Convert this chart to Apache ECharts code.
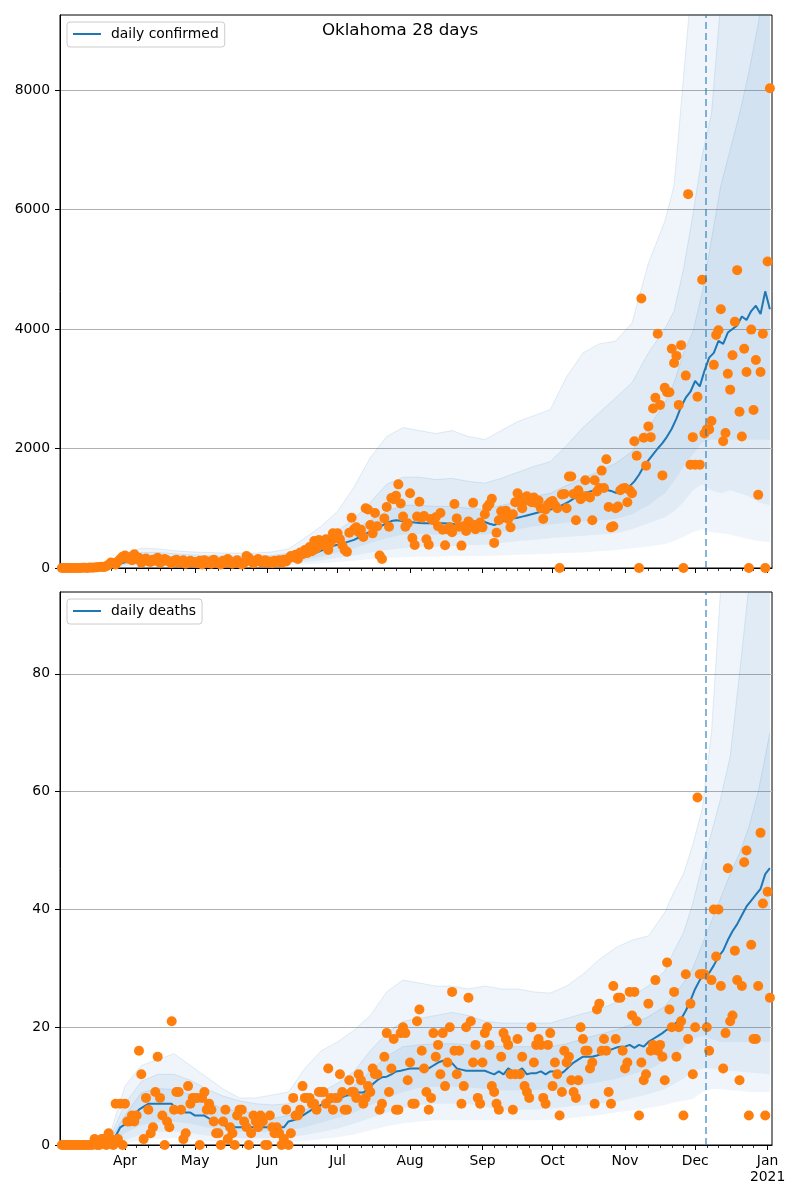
<!DOCTYPE html>
<html><head><meta charset="utf-8">
<script src="https://cdn.jsdelivr.net/npm/echarts@6/dist/echarts.min.js"></script>
<style>html,body{margin:0;padding:0;background:#fff}#c{width:800px;height:1200px}</style>
</head><body><div id="c"></div>
<script>
// Day index: 0 = 2020-03-01. First observation = 2020-03-04 (day 3).
const FIRST_OBS_DAY = 3;
const X_MIN = 3.2, X_MAX = 307.9;
const forecastStart = 279.5;
const monthTickDays = [31, 61, 92, 122, 153, 184, 214, 245, 275, 306];
const monthLabels = ['Apr', 'May', 'Jun', 'Jul', 'Aug', 'Sep', 'Oct', 'Nov', 'Dec', 'Jan\n2021'];
const minorTickDays = [5,10,15,20,25, 36,41,46,51,56, 66,71,76,81,86, 97,102,107,112,117, 127,132,137,142,147,
  158,163,168,173,178, 189,194,199,204,209, 219,224,229,234,239, 250,255,260,265,270, 280,285,290,295,300];
const yTicksTop = [0, 2000, 4000, 6000, 8000];
const yTicksBottom = [0, 20, 40, 60, 80];

// ---- daily confirmed (observations) ----
const confMar = [0,0,1,0,1,0,2,1,2,0,3,5,2,7,5,8,12,18,20,15,30,55,90,80,60,110,150,190];
const confApr = [210,160,180,130,230,150,170,90,130,160,110,100,140,120,170,90,110,150,130,100,80,120,140,90,110,130,70,100,120,90];
const confMay = [100,80,120,60,130,90,110,70,140,100,80,60,120,90,150,110,70,100,130,80,60,90,200,170,110,80,120,150,100,90,130];
const confJun = [90,110,80,120,100,130,90,140,110,160,200,180,220,150,260,230,300,250,350,280,450,330,470,400,380,480,300,420,580,500];
const confJul = [580,480,380,300,270,590,840,650,680,600,640,520,1000,980,720,580,920,700,210,150,830,1020,690,1170,1150,1210,1400,1080,860,690,750];
const confAug = [1250,500,385,860,1110,840,870,480,390,820,800,850,700,920,640,380,650,680,600,1070,830,690,375,700,620,780,740,1090,650,720,760];
const confSep = [680,900,1020,1070,1160,420,590,800,950,880,960,820,680,900,1100,1250,1180,1000,1120,1200,1150,1100,1180,1090,1130,1000,820,980,1060,1100];
const confOct = [1120,1050,1000,0,1230,1240,1000,1530,1530,1240,800,1300,1150,1200,1470,1200,1180,800,1470,1280,1340,1630,1340,1820,1020,680,700,1000,1030,1300,1330];
const confNov = [1340,1100,1300,1250,2120,1880,0,4510,2180,1710,2370,2190,2670,2850,3920,2730,1550,3015,2940,2940,3670,3430,3550,2730,3730,0,3220,6257,1730,2190];
const confDec = [1730,2865,1730,4824,2250,2320,2320,2460,3400,3900,3980,4330,2120,2260,3250,2985,3560,4120,4985,2615,2200,3670,3280,0,3990,2645,3480,1224,3280,3920,0];
const confJan = [5130,8030];

// ---- daily deaths (observations) ----
const deathMar = [0,0,0,0,0,0,0,0,0,0,0,0,0,0,0,1,0,0,1,1,0,2,1,0,7,1,7,0];
const deathApr = [7,4,4,5,4,5,16,12,1,8,6,2,3,9,15,8,5,0,4,3,21,6,9,9,6,1,2,10,7,8];
const deathMay = [8,8,0,8,9,6,7,6,4,2,2,0,4,6,1,3,2,0,5,6,6,4,3,0,2,5,4,3,5,4,0];
const deathJun = [0,5,3,2,3,2,0,1,6,0,2,8,5,5,6,10,8,8,8,7,7,6,9,9,9,7,13,8,6,8];
const deathJul = [8,12,9,6,6,11,9,9,8,12,11,7,8,10,9,13,12,12,6,7,15,19,9,13,18,6,6,19,20,19,11];
const deathAug = [14,7,7,21,23,16,13,9,6,8,19,15,17,12,19,10,14,20,26,16,12,16,7,10,20,25,21,14,17,8,7];
const deathSep = [14,19,20,17,10,9,7,6,15,19,18,17,12,6,12,18,12,15,10,9,8,20,14,17,18,17,8,7,17,19];
const deathOct = [10,14,12,5,9,16,14,15,11,9,8,11,20,18,16,16,13,14,7,23,24,16,18,16,9,7,27,18,25,25,16];
const deathNov = [13,14,26,22,26,21,5,14,11,12,24,16,17,28,16,17,15,11,31,23,20,26,15,20,21,5,29,18,24,12];
const deathDec = [20,59,29,29,29,20,16,28,40,32,40,27,13,19,47,21,22,33,28,11,27,48,50,5,34,18,18,27,53,41,5];
const deathJan = [43,25];

// ---- model median, every 2nd day from day 3 ----
const confirmedLine = [0,0,0,1,1,2,3,5,8,12,20,35,55,75,
  95,110,125,135,140,140,135,130,125,120,120,115,110,110,105,
  105,100,100,100,98,97,95,95,95,97,100,105,110,110,108,105,
  100,105,110,120,135,150,170,190,210,235,260,290,320,350,380,
  400,420,445,470,510,550,590,630,670,710,750,785,800,790,770,
  770,760,755,750,748,750,752,750,745,740,720,700,730,760,780,790,
  770,740,720,750,790,820,830,840,860,880,900,920,940,960,980,
  1000,1030,1070,1110,1160,1210,1250,1270,1290,1310,1320,1310,1290,1260,1250,
  1300,1370,1450,1560,1700,1800,1900,2000,2090,2200,2330,2500,2700,2850,2950,
  3130,3040,3300,3520,3600,3800,3750,3940,4000,4060,4210,4150,4300,4390,4250,4630,4330];
const deathsLine = [0,0,0,0,0,0,0,0,0,0,0,0.5,1.5,3,
  3.5,4.3,5,6,6.5,7,7,7,7,7,7,6,6,5.5,5.5,
  5,5,5,4.5,4,4,3.5,3,3,3,3,3,3,3,3,3,
  3,3,3,3,4,4.2,4.5,5,5.5,6,6.3,6.8,7,7.3,7.6,
  7.9,8.3,8.5,8.7,8.9,8.9,9.5,10.3,11,11.5,11.6,12,12.5,12.6,12.8,
  13,13,13,13,13,13.5,14,14.3,14.3,13.9,13,12.8,12.6,12.6,12.6,12.6,
  12.6,12.3,12,12.5,12,13,12.5,12.5,13,12,12.2,12.2,12.5,12,12.5,
  12.5,12,12.5,13.3,14,14.5,15,15,15,15.2,15.5,15.9,16.2,16.5,16.7,
  16.7,17,16.5,17,16.7,17.5,18,18.5,19,19.6,20.1,20.8,21.4,22.8,24.5,
  26.5,28,29.2,29.2,30.5,32,33,34.8,36.3,37.5,39,40.5,41.5,42.5,43.5,46,47];

// ---- uncertainty bands ----
const bandDays = [3,10,17,24,31,38,45,52,59,66,73,80,87,94,101,108,115,122,129,136,143,150,157,164,171,178,185,192,199,206,213,220,227,234,241,248,255,262,266,270,274,278,282,286,290,294,298,302,307];
const topOuterHi = [5,10,25,80,250,330,320,290,270,260,250,250,250,270,320,500,700,950,1350,1850,2200,2350,2300,2250,2300,2200,2150,2300,2450,2550,2650,3200,3600,3750,3800,4100,5100,5800,6400,8200,10000,12000,14000,16000,17000,18000,19000,20000,21000];
const topMidHi = [3,6,15,50,180,260,260,240,220,210,200,200,200,210,250,350,470,620,820,1100,1400,1520,1520,1480,1500,1450,1420,1500,1600,1700,1780,2050,2350,2600,2850,3100,3600,4000,4300,5000,5900,6900,7600,9500,11000,12500,14000,15000,16000];
const topInnerHi = [2,3,8,30,140,200,200,185,170,160,155,155,155,165,200,280,380,490,630,800,950,1050,1050,1030,1030,1000,980,1050,1100,1200,1250,1380,1500,1620,1750,1950,2350,2750,3100,3600,3950,4600,5500,6400,7000,7600,8300,9100,10500];
const topInnerLo = [0,0,2,10,60,80,80,75,70,70,70,70,70,75,100,140,190,260,330,420,500,560,570,560,560,560,560,600,650,700,730,760,780,800,820,900,1050,1250,1450,1700,1900,2100,2150,2150,2150,2150,2150,2150,2150];
const topMidLo = [0,0,1,5,40,55,55,52,50,50,50,50,50,52,70,100,130,170,210,260,300,330,350,360,370,380,390,420,450,470,500,520,540,560,580,650,750,850,950,1100,1300,1400,1300,1250,1300,1250,1200,1100,1050];
const topOuterLo = [0,0,0,2,20,30,30,30,30,30,30,30,30,30,40,60,80,100,120,150,170,180,190,190,200,200,200,210,220,230,240,250,260,280,300,330,360,400,450,520,600,650,600,580,560,520,480,450,430];

const botOuterHi = [0.5,0.5,0.5,1,10,13.5,14.5,15.5,13.5,11.5,9.5,8,8,8.5,9,13,16,17.5,19.5,22,26,28,27.5,27,27,26.5,27,26.5,26.5,26,25.8,27,29,31.5,33.5,34.8,35.5,39.5,43,46,51,57,70,95,110,120,130,140,150];
const botMidHi = [0.3,0.3,0.3,0.7,7,10.8,12,12,11,9.5,8.3,7.5,7,6.8,7,8,9,10.5,12.5,16,19,21,21.5,22,22.5,22,21,20.7,20.7,20.7,20.7,21.5,22.3,23,24.2,25.3,27,29.5,33,36,41,47.5,53,59,66,80,95,105,120];
const botInnerHi = [0.2,0.2,0.2,0.5,5,8.9,9.6,9.4,8.6,7.5,6.1,5.7,5.5,4.5,5,6,7,8.5,10,12.5,15,16.7,17,17.2,17.2,17,16.8,16.7,16.7,16.7,16.7,17.2,18,18.8,19.5,20.5,21.8,23.5,25.5,27.5,30,34,38,42,46,49.5,54,60,70];
const botInnerLo = [0,0,0,0.2,2,3.4,3.8,4,3.6,3,2.6,2.3,2.2,2.2,2.5,3,3.8,4.6,5.5,6.8,8,9,9.7,9.9,9.9,9.8,9.5,9.3,9.3,9.3,9.5,9.8,10.2,10.7,11.2,12,12.8,14.2,15.3,16.5,18,18.5,18,17.5,17.5,17.5,17.5,17.5,17.5];
const botMidLo = [0,0,0,0,0.8,1.8,2.2,2.3,2,1.6,1.4,1.2,1.2,1.2,1.3,1.7,2.2,2.8,3.6,4.6,5.5,6.2,6.8,7,7,7,6.5,6,6,6,6.2,6.5,6.8,7,7.3,8,8.6,9.5,10.3,11.3,12.5,13,13,12.8,12.6,12.5,12.3,12.2,12];
const botOuterLo = [0,0,0,0,0.3,0.8,1,1.2,1,0.7,0.5,0.4,0.4,0.4,0.5,0.7,1,1.3,1.8,2.5,3.2,3.7,4,4.2,4.2,4.2,4.2,4.2,4.2,4.2,4.3,4.5,4.8,5.1,5.5,5.9,6.3,6.8,7.2,7.5,7.8,9,9.5,9.5,9.3,9.2,9,9,9];

// ---- build ----
const FONT = 'DejaVu Sans';
const confirmed = [].concat(confMar, confApr, confMay, confJun, confJul, confAug, confSep, confOct, confNov, confDec, confJan);
const deaths = [].concat(deathMar, deathApr, deathMay, deathJun, deathJul, deathAug, deathSep, deathOct, deathNov, deathDec, deathJan);
const obsDays = confirmed.map((_, i) => FIRST_OBS_DAY + i);
const lineDays = confirmedLine.map((_, i) => FIRST_OBS_DAY + 2 * i);
const pairs = (days, vals) => days.map((d, i) => [d, vals[i]]);
// value first, day second: makes the library stack the value dimension (not the day)
const valueFirst = (days, vals) => days.map((d, i) => [vals[i], d]);

function monthLabel(v) {
  let best = 0, bd = 1e9;
  monthTickDays.forEach((d, i) => { const dd = Math.abs(d - v); if (dd < bd) { bd = dd; best = i; } });
  return monthLabels[best];
}

function xAxesFor(gridIndex, showLabels) {
  return [
    { type: 'value', gridIndex, position: 'bottom', min: X_MIN, max: X_MAX,
      axisLine: { show: true, lineStyle: { color: '#000', width: 1 } },
      splitLine: { show: false },
      axisTick: { show: true, customValues: monthTickDays, length: 5, lineStyle: { color: '#000', width: 1 } },
      axisLabel: { show: showLabels, customValues: monthTickDays, formatter: monthLabel, color: '#000',
        fontFamily: FONT, fontSize: 13.9, margin: 8, lineHeight: 16 } },
    { type: 'value', gridIndex, position: 'bottom', min: X_MIN, max: X_MAX,
      axisLine: { show: false }, splitLine: { show: false },
      axisTick: { show: true, customValues: minorTickDays, length: 3, lineStyle: { color: '#000', width: 0.8 } },
      axisLabel: { show: false } }
  ];
}
function yAxisFor(gridIndex, max, ticks, interval) {
  return { type: 'value', gridIndex, min: 0, max, interval,
    axisLine: { show: true, lineStyle: { color: '#000', width: 1 } },
    axisTick: { show: true, customValues: ticks, length: 5, lineStyle: { color: '#000', width: 1 } },
    axisLabel: { customValues: ticks, formatter: v => String(v), color: '#000', fontFamily: FONT, fontSize: 13.9, margin: 10 },
    splitLine: { show: true, lineStyle: { color: '#b0b0b0', width: 1 } } };
}
function bandSeries(xi, yi, lo, hi, key) {
  const base = { type: 'line', xAxisIndex: xi, yAxisIndex: yi, symbol: 'none', silent: true, stack: key, z: 2, clip: true,
    encode: { x: 1, y: 0 } };
  return [
    Object.assign({}, base, { data: valueFirst(bandDays, lo), lineStyle: { width: 0, opacity: 0 } }),
    Object.assign({}, base, { data: valueFirst(bandDays, hi.map((h, i) => h - lo[i])),
      lineStyle: { width: 1, color: 'rgba(31,119,180,0.12)' },
      areaStyle: { color: 'rgba(31,119,180,0.1)' } })
  ];
}
function markLineDef() {
  return { symbol: 'none', silent: true, label: { show: false },
    lineStyle: { color: 'rgba(31,119,180,0.6)', type: [7, 4], width: 1.8 },
    data: [{ xAxis: forecastStart }] };
}
function legendFor(name, top) {
  return { data: [name], left: 67, top, orient: 'vertical', padding: [5, 6, 6, 6], icon: 'rect', itemWidth: 28, itemHeight: 2,
    borderColor: '#cccccc', borderWidth: 1, borderRadius: 3, backgroundColor: 'rgba(255,255,255,0.8)',
    selectedMode: false,
    textStyle: { fontFamily: FONT, fontSize: 13.9, color: '#000', padding: [0, 0, 0, 5] } };
}

const option = {
  animation: false,
  backgroundColor: '#fff',
  title: { text: 'Oklahoma 28 days', left: 'center', top: 22, padding: 0,
    textStyle: { fontFamily: FONT, fontSize: 16.7, fontWeight: 'normal', color: '#000' } },
  legend: [legendFor('daily confirmed', 22), legendFor('daily deaths', 599)],
  grid: [
    { left: 60, top: 15, width: 712, height: 553, show: true, borderColor: '#000', borderWidth: 1, backgroundColor: 'rgba(0,0,0,0)' },
    { left: 60, top: 592, width: 712, height: 553, show: true, borderColor: '#000', borderWidth: 1, backgroundColor: 'rgba(0,0,0,0)' }
  ],
  xAxis: [].concat(xAxesFor(0, false), xAxesFor(1, true)),
  yAxis: [yAxisFor(0, 9255, yTicksTop, 2000), yAxisFor(1, 93.9, yTicksBottom, 20)],
  series: [].concat(
    bandSeries(0, 0, topOuterLo, topOuterHi, 't1'),
    bandSeries(0, 0, topMidLo, topMidHi, 't2'),
    bandSeries(0, 0, topInnerLo, topInnerHi, 't3'),
    [{ name: 'daily confirmed', type: 'line', xAxisIndex: 0, yAxisIndex: 0, data: pairs(lineDays, confirmedLine),
       symbol: 'none', lineStyle: { color: '#1f77b4', width: 2 }, itemStyle: { color: '#1f77b4' }, z: 3, markLine: markLineDef() },
     { type: 'scatter', xAxisIndex: 0, yAxisIndex: 0, data: pairs(obsDays, confirmed), symbolSize: 10,
       itemStyle: { color: '#ff7f0e', opacity: 1 }, z: 4, silent: true }],
    bandSeries(2, 1, botOuterLo, botOuterHi, 'b1'),
    bandSeries(2, 1, botMidLo, botMidHi, 'b2'),
    bandSeries(2, 1, botInnerLo, botInnerHi, 'b3'),
    [{ name: 'daily deaths', type: 'line', xAxisIndex: 2, yAxisIndex: 1, data: pairs(lineDays, deathsLine),
       symbol: 'none', lineStyle: { color: '#1f77b4', width: 2 }, itemStyle: { color: '#1f77b4' }, z: 3, markLine: markLineDef() },
     { type: 'scatter', xAxisIndex: 2, yAxisIndex: 1, data: pairs(obsDays, deaths), symbolSize: 10,
       itemStyle: { color: '#ff7f0e', opacity: 1 }, z: 4, silent: true }]
  )
};
const chart = echarts.init(document.getElementById('c'), null, { renderer: 'canvas', width: 800, height: 1200 });
chart.setOption(option);
</script></body></html>
